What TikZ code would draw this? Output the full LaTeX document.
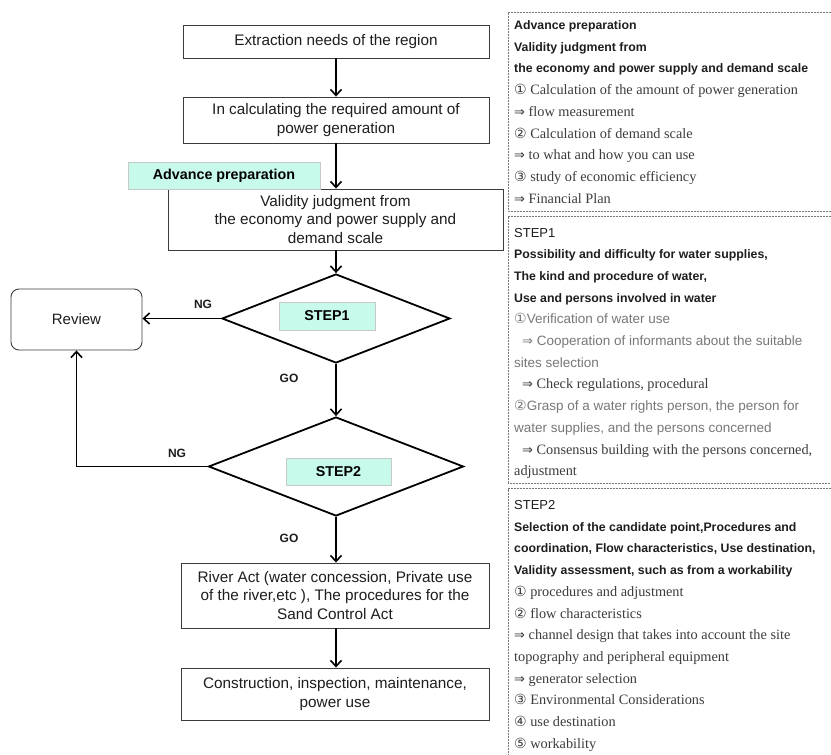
\documentclass[tikz,border=0pt]{standalone}
\usepackage{fontspec}
\setmainfont{Liberation Serif}
\newfontfamily\gothic{Liberation Sans}
\newfontfamily\symf{DejaVu Sans}
\usetikzlibrary{shapes.geometric,arrows.meta}
\definecolor{mint}{RGB}{200,250,236}
\definecolor{lblborder}{RGB}{200,200,200}
\definecolor{boxline}{RGB}{60,60,60}
\definecolor{txtdark}{RGB}{30,30,30}
\definecolor{serifgray}{RGB}{60,60,60}
\definecolor{sansgray}{RGB}{120,120,120}
\definecolor{dotline}{RGB}{120,120,120}
\newcommand\fcfont{\gothic\fontsize{15.3}{18.5}\selectfont}
\newcommand\rpbold{\gothic\bfseries\fontsize{12.3}{14}\selectfont}
\newcommand\rphead{\gothic\fontsize{13}{14}\selectfont}
\newcommand\rpserif{\fontsize{14.3}{16}\selectfont}
\newcommand\rpgray{\gothic\fontsize{13.5}{16}\selectfont}
\newcommand\cn[1]{{\symf\fontsize{14}{14}\selectfont #1}}
\newcommand\ar[1]{{\symf\fontsize{13}{14}\selectfont #1}}
\begin{document}
\begin{tikzpicture}[x=1pt,y=-1pt,
  fcbox/.style={draw=boxline,line width=0.9pt,fill=white,inner sep=0pt,align=center,font=\fcfont,text=txtdark},
  flowarrow/.style={-{Straight Barb[length=6pt,width=11pt]},line width=1.6pt,black},
  decision/.style={diamond,draw=black,line width=1.8pt,inner sep=0pt},
  tag/.style={fill=mint,draw=lblborder,line width=0.6pt,inner sep=0pt,font=\gothic\bfseries\fontsize{14.3}{16}\selectfont,text=black},
  verdict/.style={font=\gothic\bfseries\fontsize{12}{14}\selectfont,text=txtdark,inner sep=0pt},
  dotbox/.style={draw=dotline,line width=0.6pt,dash pattern=on 0.6pt off 0.9pt},
  rb/.style={anchor=base west,inner sep=0pt,font=\rpbold,text=txtdark},
  rh/.style={anchor=base west,inner sep=0pt,font=\rphead,text=txtdark},
  rs/.style={anchor=base west,inner sep=0pt,font=\rpserif,text=serifgray},
  rg/.style={anchor=base west,inner sep=0pt,font=\rpgray,text=sansgray}]
\useasboundingbox (0,0) rectangle (831,755);
\fill[white] (0,0) rectangle (831,755);
\clip (0,0) rectangle (831,755);

% ---------- flowchart ----------
\node[fcbox,minimum width=306pt,minimum height=33pt] (extract) at (336,41.5) {Extraction needs of the region};
\node[fcbox,minimum width=306pt,minimum height=46pt] (calc) at (336,120) {In calculating the required amount of\\power generation};
\node[fcbox,minimum width=335pt,minimum height=61pt] (valid) at (335.5,219.5) {Validity judgment from\\the economy and power supply and\\demand scale};
\node[tag,minimum width=192pt,minimum height=27pt] (advtag) at (224,175.5) {Advance preparation};

\node[decision,minimum width=228pt,minimum height=89pt] (step1) at (336,318.5) {};
\node[tag,minimum width=96pt,minimum height=28pt] (s1tag) at (327,316) {STEP1};
\node[decision,minimum width=255pt,minimum height=99pt] (step2) at (336,466.5) {};
\node[tag,minimum width=105pt,minimum height=27pt] (s2tag) at (338.5,471.5) {STEP2};

\node[draw=boxline,line width=0.9pt,rounded corners=8pt,minimum width=131pt,minimum height=61pt,inner sep=0pt,font=\gothic\fontsize{15}{18}\selectfont,text=txtdark] (review) at (76.5,319.5) {Review};

\node[fcbox,minimum width=308pt,minimum height=65pt] (river) at (335,595.5) {River Act (water concession, Private use\\of the river,etc ), The procedures for the\\Sand Control Act};
\node[fcbox,minimum width=308pt,minimum height=52pt] (constr) at (335,694) {Construction, inspection, maintenance,\\power use};

\draw[flowarrow] (extract.south -| step1.north) -- (calc.north -| step1.north);
\draw[flowarrow] (calc.south -| step1.north) -- (valid.north -| step1.north);
\draw[flowarrow] (valid.south -| step1.north) -- (step1.north);
\draw[flowarrow] (step1.west) -- (step1.west -| review.east);
\draw[flowarrow] (step1.south) -- (step2.north);
\draw[flowarrow] (step2.west) -| (review.south);
\draw[flowarrow] (step2.south) -- (river.north -| step2.south);
\draw[flowarrow] (river.south -| step2.south) -- (constr.north -| step2.south);

\node[verdict] (ng1) at (203,304) {NG};
\node[verdict] (go1) at (289,378) {GO};
\node[verdict] (ng2) at (177,453) {NG};
\node[verdict] (go2) at (289,538) {GO};

% ---------- right panel ----------
\draw[dotbox] (840,12) -- (508,12) -- (508,211) -- (840,211);
\draw[dotbox] (840,216) -- (508,216) -- (508,483.5) -- (840,483.5);
\draw[dotbox] (840,488.5) -- (508,488.5) -- (508,770);

\node[rb] (a1) at (514,29.5) {Advance preparation};
\node[rb] (a2) at (514,51.2) {Validity judgment from};
\node[rb] (a3) at (514,72.9) {the economy and power supply and demand scale};
\node[rs] (a4) at (514,94.6) {\cn{①} Calculation of the amount of power generation};
\node[rs] (a5) at (514,116.3) {\ar{⇒} flow measurement};
\node[rs] (a6) at (514,138) {\cn{②} Calculation of demand scale};
\node[rs] (a7) at (514,159.7) {\ar{⇒} to what and how you can use};
\node[rs] (a8) at (514,181.4) {\cn{③} study of economic efficiency};
\node[rs] (a9) at (514,203.1) {\ar{⇒} Financial Plan};

\node[rh] (b1) at (514,237) {STEP1};
\node[rb] (b2) at (514,258.7) {Possibility and difficulty for water supplies,};
\node[rb] (b3) at (514,280.4) {The kind and procedure of water,};
\node[rb] (b4) at (514,302.1) {Use and persons involved in water};
\node[rg] (b5) at (514,323.8) {\cn{①}Verification of water use};
\node[rg] (b6) at (522,345.5) {\ar{⇒} Cooperation of informants about the suitable};
\node[rg] (b7) at (514,367.2) {sites selection};
\node[rs] (b8) at (522,388.9) {\ar{⇒} Check regulations, procedural};
\node[rg] (b9) at (514,410.6) {\cn{②}Grasp of a water rights person, the person for};
\node[rg] (b10) at (514,432.3) {water supplies, and the persons concerned};
\node[rs] (b11) at (522,454) {\ar{⇒} Consensus building with the persons concerned,};
\node[rs] (b12) at (514,475.7) {adjustment};

\node[rh] (c1) at (514,509.5) {STEP2};
\node[rb] (c2) at (514,531.2) {Selection of the candidate point,Procedures and};
\node[rb] (c3) at (514,552.9) {coordination, Flow characteristics, Use destination,};
\node[rb] (c4) at (514,574.6) {Validity assessment, such as from a workability};
\node[rs] (c5) at (514,596.3) {\cn{①} procedures and adjustment};
\node[rs] (c6) at (514,618) {\cn{②} flow characteristics};
\node[rs] (c7) at (514,639.7) {\ar{⇒} channel design that takes into account the site};
\node[rs] (c8) at (514,661.4) {topography and peripheral equipment};
\node[rs] (c9) at (514,683.1) {\ar{⇒} generator selection};
\node[rs] (c10) at (514,704.8) {\cn{③} Environmental Considerations};
\node[rs] (c11) at (514,726.5) {\cn{④} use destination};
\node[rs] (c12) at (514,748.2) {\cn{⑤} workability};
\end{tikzpicture}
\end{document}
